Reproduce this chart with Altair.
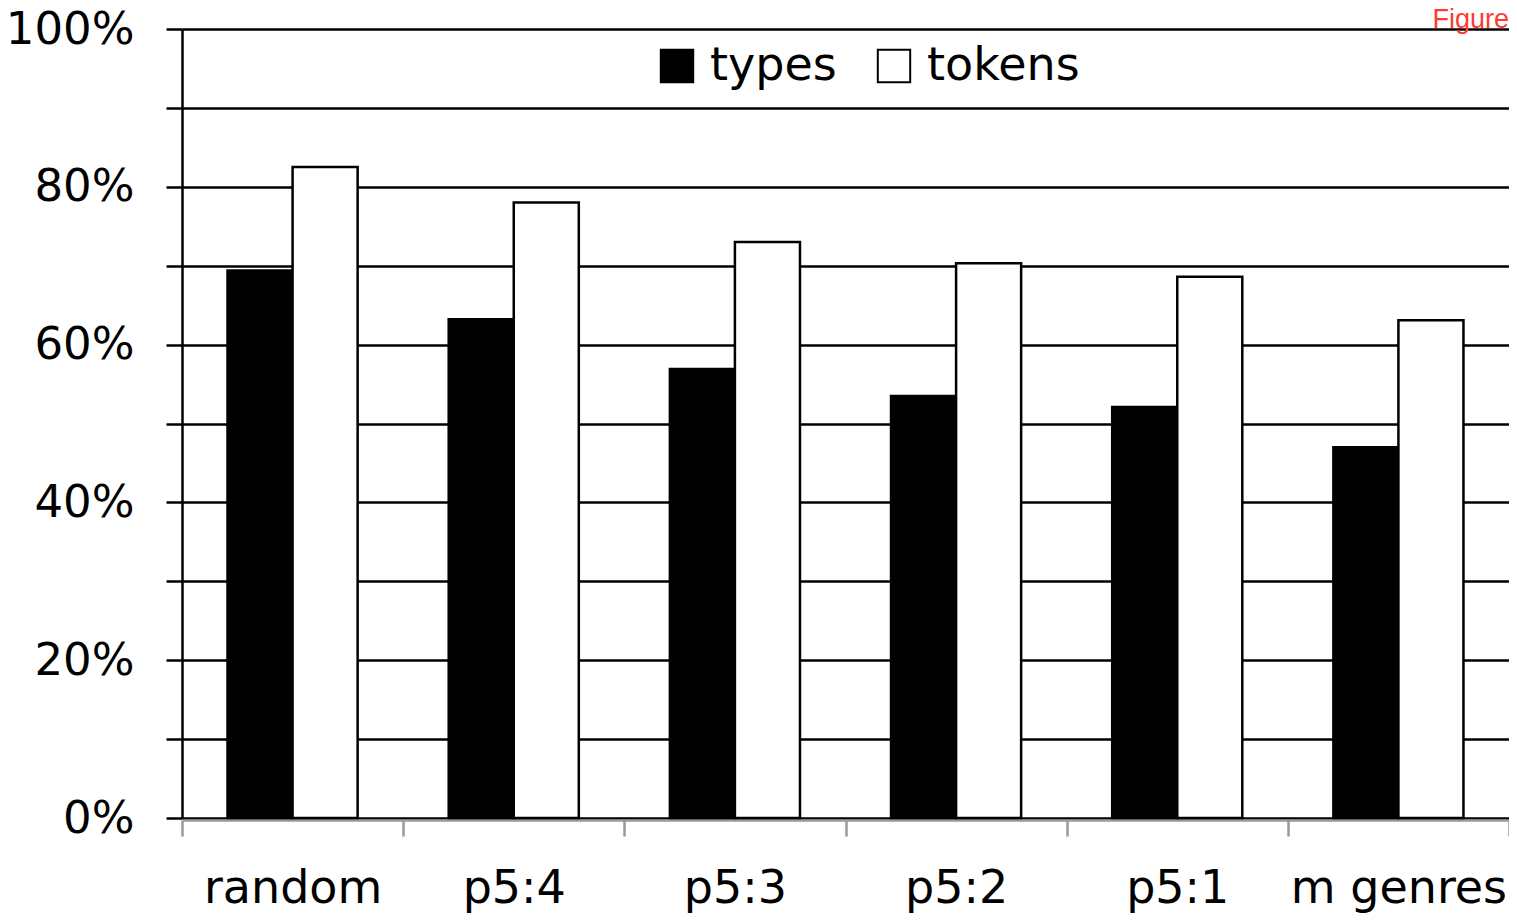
import altair as alt
import pandas as pd

categories = ["random", "p5:4", "p5:3", "p5:2", "p5:1", "m genres"]
types_vals = [0.694, 0.632, 0.569, 0.535, 0.521, 0.470]
tokens_vals = [0.825, 0.780, 0.730, 0.703, 0.686, 0.631]
series = ["types", "tokens"]

rows = []
for c, a, b in zip(categories, types_vals, tokens_vals):
    rows.append({"cat": c, "series": "types", "value": a})
    rows.append({"cat": c, "series": "tokens", "value": b})
df = pd.DataFrame(rows)

FONT = "DejaVu Sans"
W, H = 1327, 789

bars = alt.Chart(df).mark_bar(stroke="black", strokeWidth=2.5, strokeJoin="miter").encode(
    x=alt.X("cat:N", sort=categories, title=None,
            scale=alt.Scale(paddingInner=0, paddingOuter=0),
            axis=alt.Axis(labelAngle=0, labelFontSize=46, labelFont=FONT, labelColor="black",
                          labelPadding=30, labelLimit=0, tickBand="extent", tickSize=16,
                          tickColor="#999999", tickWidth=2.5, domainColor="#999999",
                          domainWidth=2.5, offset=2, grid=False)),
    xOffset=alt.XOffset("series:N", sort=series,
                        scale=alt.Scale(paddingInner=0, paddingOuter=0.7)),
    y=alt.Y("value:Q", title=None,
            scale=alt.Scale(domain=[0, 1], nice=False),
            axis=alt.Axis(values=[i / 10 for i in range(11)],
                          labelExpr="round(datum.value*100) % 20 == 0 ? round(datum.value*100) + '%' : ''",
                          labelFontSize=45, labelFont=FONT, labelColor="black", labelPadding=32,
                          labelLimit=0, tickSize=16, tickColor="black", tickWidth=2.5,
                          domainColor="black", domainWidth=2.5,
                          grid=True, gridColor="black", gridWidth=2.5)),
    fill=alt.Fill("series:N", sort=series,
                  scale=alt.Scale(domain=series, range=["black", "white"]),
                  legend=alt.Legend(title=None, orient="none", legendX=466, legendY=8,
                                    direction="horizontal", symbolType="square",
                                    symbolSize=1050, symbolStrokeColor="black",
                                    symbolStrokeWidth=2, labelFontSize=46, labelFont=FONT,
                                    labelColor="black", columnPadding=34, labelOffset=10,
                                    labelLimit=0, fillColor="white", padding=6)),
)

fig_label = alt.Chart(pd.DataFrame({"t": ["Figure"]})).mark_text(
    color="#ff3b30", fontSize=27, font="Liberation Sans", align="right", baseline="alphabetic"
).encode(text="t:N", x=alt.value(W), y=alt.value(-1))

chart = alt.layer(bars, fig_label).properties(
    width=W, height=H,
    autosize=alt.AutoSizeParams(type="none"),
    padding={"left": 174, "top": 21, "right": 0, "bottom": 98},
).configure_view(stroke="black", strokeWidth=2.5).configure(background="white")

chart.save("out.html", embed_options={"renderer": "svg", "actions": False})
